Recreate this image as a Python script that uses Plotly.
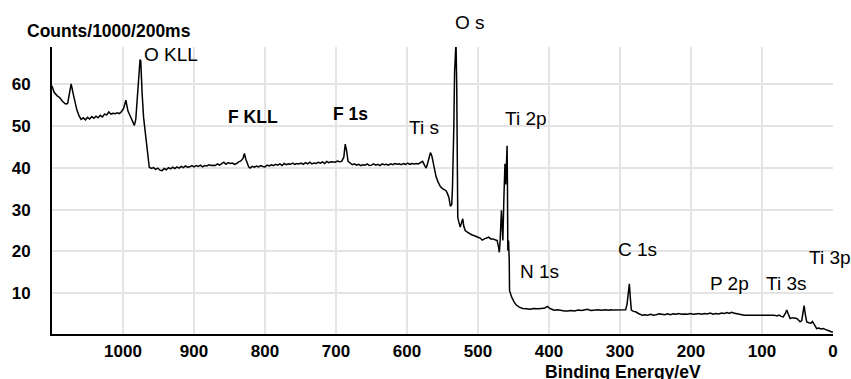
import plotly.graph_objects as go

# Binding energy (eV) and counts (x1000 per 200 ms)
binding_energy = [
    1100, 1097, 1093, 1089, 1085, 1081, 1078, 1075, 1073, 1070, 1068, 1065, 1062, 1059, 1056, 1053,
    1050, 1047, 1044, 1041, 1038, 1035, 1032, 1029, 1026, 1023, 1020, 1017, 1014, 1011, 1008, 1005,
    1002, 999, 996, 993, 990, 987, 984, 982, 980, 978, 976, 975, 974, 973, 971, 969, 967, 965, 963,
    960, 957, 954, 951, 948, 945, 942, 939, 936, 933, 930, 927, 924, 921, 918, 915, 912, 909, 906,
    903, 900, 897, 894, 891, 888, 885, 882, 879, 876, 873, 870, 867, 864, 861, 858, 855, 852, 849,
    846, 843, 840, 837, 834, 831, 829, 827, 825, 823, 821, 818, 815, 812, 809, 806, 803, 800, 797,
    794, 791, 788, 785, 782, 779, 776, 773, 770, 767, 764, 761, 758, 755, 752, 749, 746, 743, 740,
    737, 734, 731, 728, 725, 722, 719, 716, 713, 710, 707, 704, 701, 698, 695, 692, 689, 687, 685,
    683, 680, 677, 674, 671, 668, 665, 662, 659, 656, 653, 650, 647, 644, 641, 638, 635, 632, 629,
    626, 623, 620, 617, 614, 611, 608, 605, 602, 599, 596, 593, 590, 587, 584, 581, 578, 575, 573,
    571, 569, 567, 565, 563, 561, 559, 556, 553, 550, 547, 545, 543, 541, 539, 537, 536, 535, 534,
    533, 532, 531, 530, 529.5, 528.5, 527, 525, 523, 521.5, 520, 518, 515, 512, 509, 506, 503, 500,
    497, 494, 491, 488, 485, 482, 479, 476, 473, 471, 470, 469, 467, 466, 465, 463.5, 462, 461, 459,
    458.5, 458, 457, 456, 455.6, 452.6, 449, 446, 442, 437, 432, 427, 422, 416, 411, 406, 402, 399,
    396, 393, 388, 383, 378, 374, 369, 364, 359, 354, 349, 346, 341, 336, 331, 326, 321, 316, 313,
    308, 303, 298, 294, 292, 290, 288.7, 286.8, 285.5, 284, 281, 278, 274, 271, 268.7, 265, 261, 257,
    253, 249, 245, 241, 237, 233, 229, 225, 221, 217, 213, 209, 205, 201, 197, 193, 189, 185, 181,
    177, 173, 169, 165, 161, 157, 153, 149, 146, 143, 140, 137, 133, 130, 125, 120, 115, 110, 105,
    100, 95, 90, 86, 83, 79, 76, 73, 70, 67, 65, 63, 60.4, 57, 54, 51, 48.5, 46.3, 44, 42, 40.7, 39,
    37, 34, 31, 29, 27.6, 25, 23, 20, 17, 13.6, 11, 8.8, 5, 1.8, 0,
]
counts = [
    59.5, 58.0, 57.2, 56.7, 55.8, 55.2, 55.3, 58.0, 60.0, 57.5, 56.0, 53.8, 52.4, 51.5, 51.9, 51.4,
    52.0, 51.6, 52.2, 51.8, 52.3, 51.9, 52.5, 52.1, 52.8, 52.6, 53.3, 52.8, 53.0, 52.9, 53.1, 52.9,
    53.4, 54.2, 56.1, 53.5, 52.4, 51.0, 50.1, 51.5, 57.0, 62.0, 65.8, 65.5, 60.0, 57.5, 52.0, 48.8,
    45.0, 42.0, 40.1,
    39.8, 40.0, 39.6, 39.9, 39.4, 39.3, 39.8, 39.5, 40.0, 39.7, 40.1, 39.8, 40.2, 39.9, 40.3, 40.0,
    40.4, 40.1, 40.2,
    40.5, 40.2, 40.5, 40.3, 40.6, 40.2, 40.5, 40.4, 40.7, 40.5, 40.6, 40.5, 40.9, 40.6, 41.0, 41.3,
    40.8, 41.2, 41.0,
    41.1, 40.8, 41.0, 41.4, 41.6, 42.2, 43.4, 42.0, 40.9, 40.2, 39.9, 40.3, 40.1, 40.4, 40.2, 40.5,
    40.3, 40.2, 40.6,
    40.4, 40.7, 40.5, 40.8, 40.6, 40.9, 40.5, 41.0, 40.7, 40.9, 40.8, 41.1, 40.8, 41.0, 40.9, 41.1,
    40.8, 41.2, 40.9,
    41.3, 40.9, 41.1, 41.0, 41.3, 41.1, 41.4, 41.0, 41.5, 41.2, 41.4, 41.3, 41.3, 41.6, 41.4, 41.5,
    42.5, 45.6, 44.0,
    41.5, 41.0, 40.7, 40.9, 40.6, 40.8, 40.5, 40.7, 40.6, 40.9, 40.5, 40.6, 40.9, 40.6, 40.8, 40.5,
    40.9, 40.7, 40.8,
    40.6, 40.9, 40.7, 41.0, 40.8, 40.9, 40.7, 41.0, 40.8, 41.1, 40.8, 41.0, 40.9, 41.0, 40.9, 41.2,
    41.5, 40.5, 39.9,
    41.0, 42.5, 43.6, 42.8, 41.0, 39.5, 37.8, 36.5, 35.5, 35.0, 34.6, 34.5, 33.8, 32.9, 30.8, 31.2,
    35.0, 41.7, 50.0,
    62.7, 66.0, 70.0, 60.0, 47.6, 28.2, 27.0, 25.8, 27.0, 27.8, 26.0, 25.0, 24.6, 24.2, 24.0, 23.8,
    23.5, 23.4,
    23.2, 22.7, 23.0, 23.2, 23.4, 23.0, 23.0, 22.8, 22.6, 21.0, 19.8, 22.0, 29.8, 26.0, 22.6, 33.0,
    40.9, 36.0, 45.2,
    35.0, 20.2, 22.6, 17.9, 10.7, 9.1, 7.9, 7.2, 6.7, 6.4, 6.3, 6.2, 6.4, 6.3, 6.4, 6.5, 6.9, 6.4,
    6.2, 6.0, 6.1, 5.9, 5.8, 5.8, 5.9, 5.8, 6.0, 5.9, 6.1, 6.2, 5.9, 6.0, 6.1, 6.0, 6.1, 6.0, 6.1,
    6.0, 6.0, 6.0, 6.0, 6.1, 7.5, 9.1, 12.3, 9.0, 6.0, 5.7, 5.6, 5.2, 4.9, 4.8, 4.9, 4.8, 5.0,
    4.8, 4.9, 5.1, 5.0, 4.9, 5.1, 4.9, 5.1, 5.0, 5.2, 5.0, 5.1, 5.0, 5.2, 5.0, 5.1, 5.2, 5.0, 5.2,
    5.1, 5.3, 5.0, 5.2, 5.1, 5.3, 5.2, 5.4, 5.2, 5.5, 5.3, 5.2, 5.0, 4.8, 4.8, 4.8, 4.8, 4.8, 4.8,
    4.8, 4.8, 4.8, 4.9, 4.8, 4.6, 4.8, 4.5, 4.4, 5.3, 6.0, 5.1, 4.0, 4.2, 4.1, 4.0, 3.6, 3.2, 3.5,
    5.5, 7.1, 5.0,
    3.2, 3.0, 2.9, 3.3, 2.8, 2.2, 1.6, 1.7, 1.5, 1.6, 1.4, 1.2, 1.0, 0.8, 0.8,
]

# Peak labels: text, binding energy, counts, bold flag
peak_labels = ["O KLL", "F KLL", "F 1s", "Ti s", "O s", "Ti 2p", "N 1s", "C 1s", "P 2p", "Ti 3s", "Ti 3p"]
label_be = [932, 817, 680, 576, 511, 432, 413, 275, 146, 66, 4]
label_counts = [67.0, 52.0, 52.8, 49.6, 74.6, 51.8, 15.2, 20.4, 12.3, 12.3, 18.6]
label_bold = [False, True, True, False, False, False, False, False, False, False, False]

x_ticks = [1000, 900, 800, 700, 600, 500, 400, 300, 200, 100, 0]
y_ticks = [10, 20, 30, 40, 50, 60]

FONT = "Liberation Sans, Arial, sans-serif"
Y_RANGE = [0.3, 68.8]

fig = go.Figure()
fig.add_trace(go.Scatter(
    x=binding_energy, y=counts, mode="lines",
    line=dict(color="black", width=1.5),
    hoverinfo="skip", showlegend=False,
))

for t, bx, by, bold in zip(peak_labels, label_be, label_counts, label_bold):
    # labels above the plotted range are positioned in paper units so they stay visible
    ypaper = (by - Y_RANGE[0]) / (Y_RANGE[1] - Y_RANGE[0])
    fig.add_annotation(
        x=bx, y=ypaper, xref="x", yref="paper", text=t, showarrow=False,
        xanchor="center", yanchor="middle",
        font=dict(family=FONT, size=17.5 if bold else 19, color="black",
                  weight="bold" if bold else "normal"),
    )

fig.add_annotation(
    x=-0.035, y=1.098, xref="paper", yref="paper", text="Counts/1000/200ms",
    showarrow=False, xanchor="left", yanchor="top",
    font=dict(family=FONT, size=17.5, color="black", weight="bold"),
)
fig.add_annotation(
    x=0.7305, y=-0.09, xref="paper", yref="paper", text="Binding Energy/eV",
    showarrow=False, xanchor="center", yanchor="top",
    font=dict(family=FONT, size=17.5, color="black", weight="bold"),
)

fig.update_layout(
    width=851, height=379,
    margin=dict(l=50, r=18, t=47, b=45),
    paper_bgcolor="white", plot_bgcolor="white",
    showlegend=False,
    font=dict(family=FONT, color="black"),
)
fig.update_xaxes(
    range=[1100, 0], tickvals=x_ticks, ticktext=[str(v) for v in x_ticks],
    showgrid=True, gridcolor="#e4e4e4", gridwidth=2,
    showline=True, linecolor="black", linewidth=2,
    zeroline=False, ticks="", ticklabelstandoff=1,
    tickfont=dict(family=FONT, size=17, color="black", weight="bold"),
)
fig.update_yaxes(
    range=Y_RANGE, tickvals=y_ticks, ticktext=[str(v) for v in y_ticks],
    showgrid=True, gridcolor="#e4e4e4", gridwidth=2,
    showline=True, linecolor="black", linewidth=2,
    zeroline=False, ticks="", ticklabelstandoff=16,
    tickfont=dict(family=FONT, size=17, color="black", weight="bold"),
)

fig.write_html("out.html")
